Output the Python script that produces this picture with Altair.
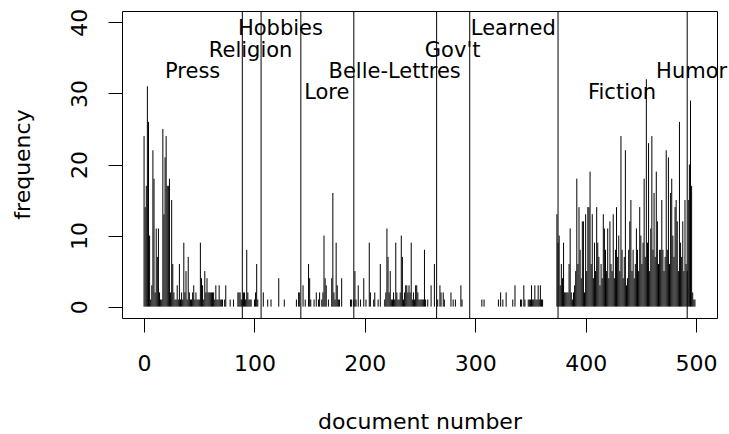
import altair as alt
import pandas as pd

# Per-document counts of the word, grouped by Brown corpus genre (documents 0..499)
press = [24, 14, 17, 31, 26, 10, 1, 3, 22, 18,
         2, 11, 7, 11, 2, 1, 1, 25, 13, 21,
         24, 17, 17, 18, 2, 15, 6, 2, 1, 1,
         3, 1, 6, 1, 2, 1, 9, 2, 5, 1,
         7, 2, 1, 1, 2, 3, 1, 2, 1, 1,
         1, 9, 4, 3, 1, 5, 2, 4, 2, 2,
         2, 2, 2, 2, 1, 3, 1, 1, 3, 1,
         1, 1, 0, 1, 3, 0, 0, 0, 1, 0,
         0, 1, 0, 0, 0, 2, 2, 2]
religion = [1, 1, 2, 2, 1, 8, 2, 1, 1, 1,
            0, 0, 1, 2, 6, 1, 0]
hobbies = [0, 0, 0, 2, 0, 0, 0, 1, 0, 0,
           1, 0, 0, 0, 0, 0, 0, 4, 0, 0,
           0, 0, 1, 0, 0, 0, 0, 0, 0, 0,
           0, 0, 0, 1, 0, 2]
lore = [2, 0, 0, 3, 0, 1, 0, 0, 6, 4,
        1, 0, 0, 1, 0, 2, 0, 1, 2, 0,
        1, 2, 10, 4, 3, 0, 1, 0, 0, 4,
        16, 2, 1, 9, 3, 1, 1, 0, 4, 0,
        0, 0, 0, 0, 0, 0, 1, 1]
belles = [0, 1, 5, 1, 0, 3, 0, 1, 0, 0,
          4, 0, 1, 0, 0, 9, 2, 0, 0, 1,
          2, 0, 0, 1, 0, 6, 0, 0, 0, 1,
          2, 11, 7, 2, 5, 1, 1, 2, 1, 9,
          2, 1, 1, 2, 10, 7, 1, 2, 3, 3,
          2, 3, 2, 9, 1, 2, 1, 3, 3, 2,
          1, 1, 1, 1, 1, 8, 1, 0, 1, 0,
          0, 3, 0, 0, 6]
govt = [0, 0, 1, 0, 3, 2, 0, 2, 1, 0,
        0, 0, 0, 0, 2, 0, 1, 0, 1, 0,
        0, 0, 0, 3, 1, 0, 0, 0, 0, 0]
learned = [0, 0, 0, 0, 0, 0, 0, 0, 0, 0,
           0, 0, 1, 0, 1, 0, 0, 0, 0, 0,
           0, 0, 0, 0, 0, 0, 0, 1, 0, 2,
           0, 1, 0, 0, 2, 0, 0, 0, 0, 0,
           1, 0, 3, 0, 0, 0, 0, 1, 1, 0,
           3, 1, 0, 0, 1, 1, 1, 3, 1, 1,
           3, 1, 1, 3, 1, 3, 1, 1, 0, 0,
           0, 0, 0, 0, 0, 0, 0, 0, 0, 0]
fiction = [13, 9, 10, 3, 6, 4, 9, 2, 2, 2,
           2, 6, 11, 2, 1, 2, 3, 5, 18, 6,
           14, 8, 4, 12, 12, 2, 13, 5, 14, 14,
           19, 6, 13, 4, 9, 5, 14, 9, 7, 3,
           6, 4, 13, 11, 8, 5, 11, 4, 12, 6,
           5, 13, 4, 8, 14, 7, 10, 5, 24, 8,
           4, 7, 22, 3, 4, 8, 12, 15, 5, 8,
           4, 6, 11, 8, 5, 14, 10, 6, 9, 18,
           7, 32, 9, 23, 5, 11, 24, 8, 16, 7,
           19, 12, 6, 8, 8, 15, 8, 5, 7, 22,
           8, 21, 6, 16, 18, 10, 7, 14, 15, 12,
           5, 26, 9, 7, 12, 5, 15]
humor = [6, 5, 15, 20, 29, 17, 2, 1, 1]

freq = press + religion + hobbies + lore + belles + govt + learned + fiction + humor
docs = list(range(len(freq)))

# Genre separators and labels
boundaries = [89, 106, 142, 190, 265, 295, 375, 492]
genres = ["Press", "Religion", "Hobbies", "Lore", "Belle-Lettres",
          "Gov't", "Learned", "Fiction", "Humor"]
label_x = [44, 96.5, 123.5, 165.5, 227, 279.5, 334.5, 433, 496]
label_y = [33, 36, 39, 30, 33, 36, 39, 30, 33]

FONT = "DejaVu Sans"
FS = 22          # axis labels and titles
FS_GENRE = 21    # genre names inside the plot

counts = pd.DataFrame({"doc": docs, "freq": freq})
counts = counts[counts["freq"] > 0]

xscale = alt.Scale(domain=[-20, 519], nice=False, zero=False)
yscale = alt.Scale(domain=[-1.6, 41.6], nice=False, zero=False)

spikes = alt.Chart(counts).mark_rule(color="black", strokeWidth=1).encode(
    x=alt.X("doc:Q", scale=xscale,
            axis=alt.Axis(values=[0, 100, 200, 300, 400, 500], title="document number",
                          labelPadding=31, labelBaseline="middle",
                          titleY=103, titleBaseline="middle")),
    y=alt.Y("freq:Q", scale=yscale,
            axis=alt.Axis(values=[0, 10, 20, 30, 40], title="frequency",
                          labelAngle=-90, labelAlign="center", labelBaseline="middle",
                          labelPadding=29,
                          titleX=-100, titleY=153, titleAngle=-90,
                          titleAlign="center", titleBaseline="middle")),
    y2=alt.datum(0),
)

separators = alt.Chart(pd.DataFrame({"b": boundaries})).mark_rule(
    color="black", strokeWidth=1
).encode(x=alt.X("b:Q", scale=xscale))

names = alt.Chart(pd.DataFrame({"x": label_x, "y": label_y, "genre": genres})).mark_text(
    font=FONT, fontSize=FS_GENRE, color="black", align="center", baseline="middle"
).encode(
    x=alt.X("x:Q", scale=xscale),
    y=alt.Y("y:Q", scale=yscale),
    text="genre:N",
)

chart = alt.layer(spikes, separators, names).properties(
    width=595,
    height=307,
    autosize=alt.AutoSizeParams(type="none"),
    padding={"left": 122, "top": 11, "right": 12, "bottom": 116},
    background="white",
).configure_view(
    stroke="black", strokeWidth=1, fill=None
).configure_axis(
    domain=False, grid=False,
    tickColor="black", tickSize=14, tickWidth=1,
    labelFont=FONT, labelFontSize=FS, labelColor="black",
    titleFont=FONT, titleFontSize=FS, titleColor="black", titleFontWeight="normal",
    labelOverlap=False, labelFlush=False,
)

chart.save("out.html", embed_options={"renderer": "svg", "actions": False})
